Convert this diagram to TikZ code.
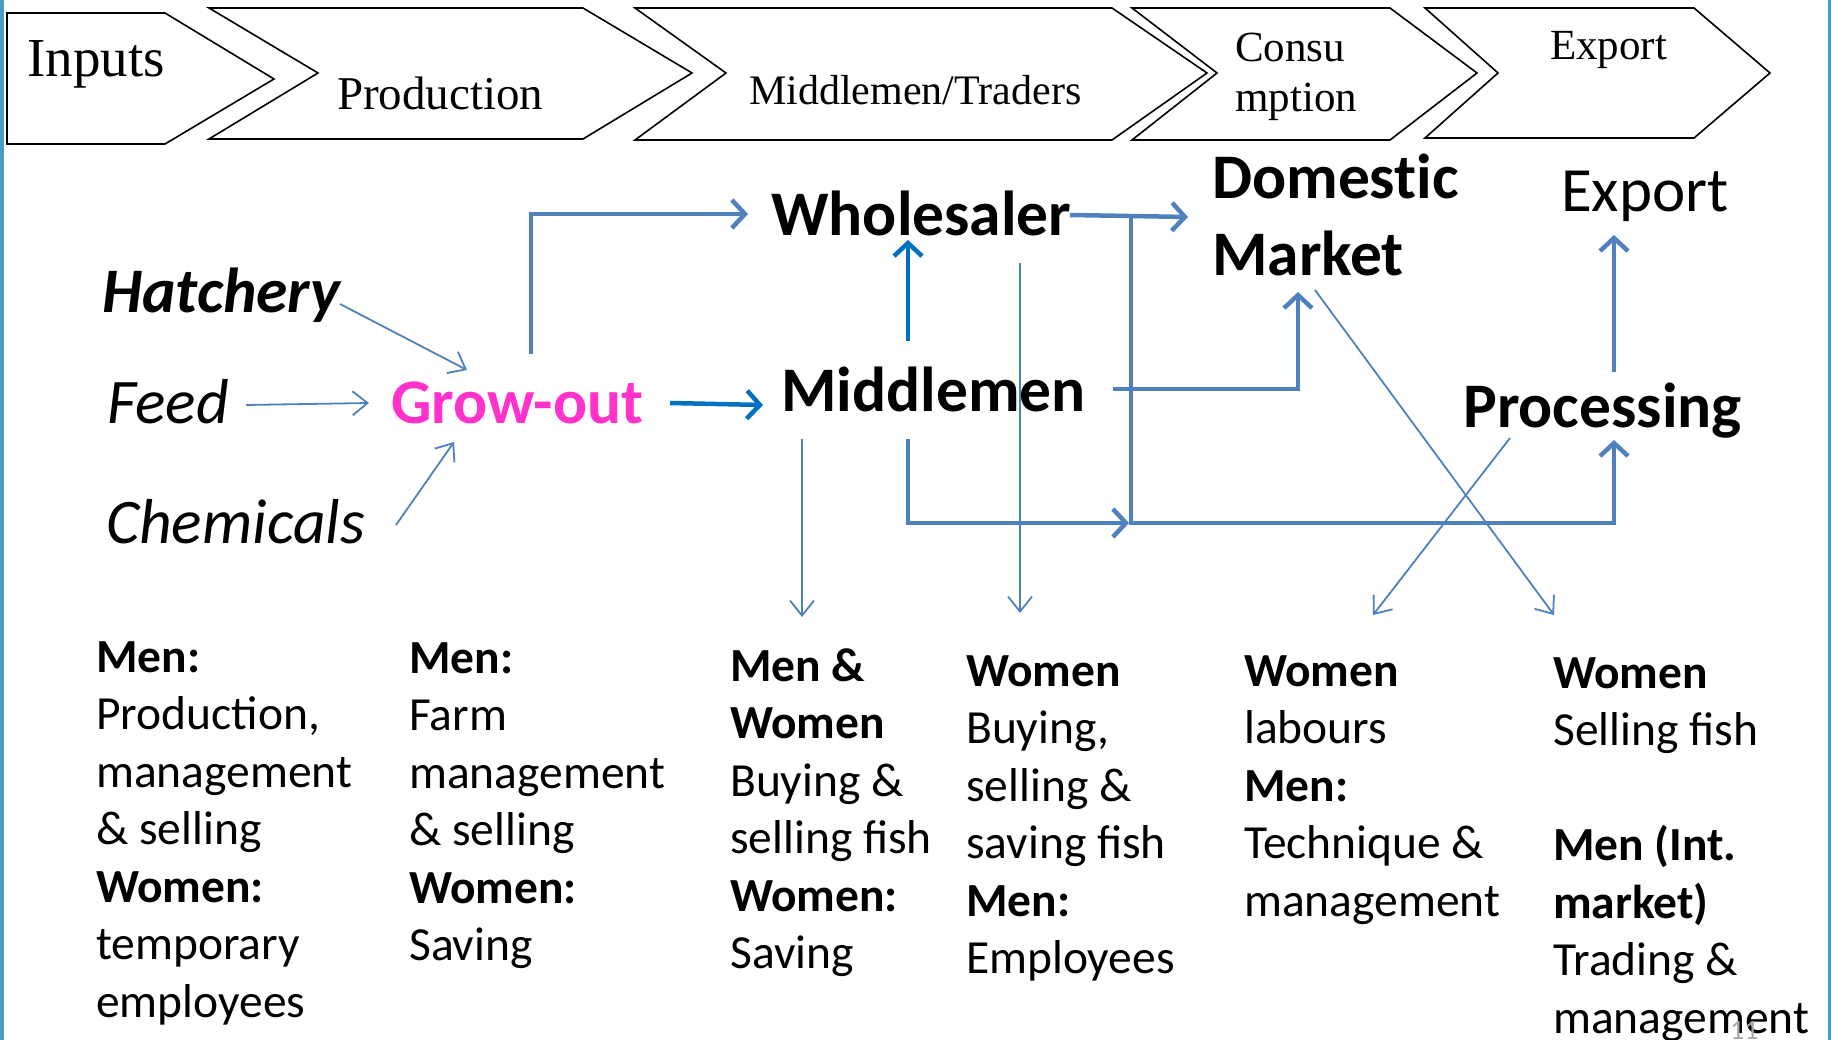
\documentclass[tikz,border=0pt]{standalone}
\usepackage{fontspec}
\setmainfont{Carlito}
\newfontfamily\tnr{Liberation Serif}
\usetikzlibrary{arrows.meta}
\definecolor{lineblue}{HTML}{4F81BD}
\definecolor{brightblue}{HTML}{0070C0}
\definecolor{tealborder}{HTML}{4A9BC0}
\definecolor{growpink}{HTML}{FF33CC}
\definecolor{pagegray}{HTML}{A6A6A6}
\newcommand\colbox[1]{\begin{tabular}[t]{@{}l@{}}#1\end{tabular}}
\tikzset{
  chev/.style={draw=black, line width=1.6pt, line join=miter},
  lbl/.style={inner sep=0pt, anchor=base west},
  bigtxt/.style={lbl, font=\fontsize{63.5}{70}\selectfont},
  coltxt/.style={lbl, font=\fontsize{47.5}{57.5}\selectfont},
  thinarr/.style={draw=lineblue, line width=1.8pt, -{Straight Barb[length=15pt,width=24pt]}},
  thinline/.style={draw=lineblue, line width=1.8pt},
  thickarr/.style={draw=lineblue, line width=4.5pt, -{Straight Barb[length=13pt,width=28pt]}},
  thickline/.style={draw=lineblue, line width=4.5pt},
}
\begin{document}
\begin{tikzpicture}[x=1pt,y=-1pt]
\clip (0,0) rectangle (1831,1040);
\fill[white] (0,0) rectangle (1831,1040);
\fill[tealborder] (0,0) rectangle (4,1040);
\fill[tealborder] (1828,0) rectangle (1831,1040);

% ---- chevrons ----
\draw[chev] (7,13) -- (165,13) -- (274,79) -- (165,144) -- (7,144) -- cycle;
\draw[chev] (209,8) -- (583,8) -- (692,73) -- (583,139) -- (209,139) -- (318,73) -- cycle;
\draw[chev] (635,8) -- (1112,8) -- (1207,73) -- (1112,140) -- (635,140) -- (726,73) -- cycle;
\draw[chev] (1132,8) -- (1390,8) -- (1477,73) -- (1390,140) -- (1132,140) -- (1217,73) -- cycle;
\draw[chev] (1425,8) -- (1694,8) -- (1770,73) -- (1694,138) -- (1425,138) -- (1498,73) -- cycle;

\node[lbl, font=\tnr\fontsize{55}{60}\selectfont] (cInputs) at (27,77) {Inputs};
\node[lbl, font=\tnr\fontsize{47}{52}\selectfont] (cProd) at (337,110) {Production};
\node[lbl, font=\tnr\fontsize{42}{48}\selectfont] (cMid) at (749,105) {Middlemen/Traders};
\node[lbl, font=\tnr\fontsize{43}{50}\selectfont] (cCons) at (1235,62) {\colbox{Consu\\mption}};
\node[lbl, font=\tnr\fontsize{43}{48}\selectfont] (cExp) at (1550,60) {Export};

% ---- main nodes ----
\node[bigtxt, font=\fontsize{63.5}{70}\selectfont\bfseries\itshape] (hatch) at (102,313) {Hatchery};
\node[bigtxt, font=\fontsize{63.5}{70}\selectfont\itshape] (feed) at (107,424) {Feed};
\node[bigtxt, font=\fontsize{63.5}{70}\selectfont\itshape] (chem) at (106,543) {Chemicals};
\node[bigtxt, font=\fontsize{63.5}{70}\selectfont\bfseries, text=growpink] (grow) at (391,424) {Grow-out};
\node[bigtxt, font=\fontsize{63.5}{70}\selectfont\bfseries] (whole) at (771,236) {Wholesaler};
\node[bigtxt, font=\fontsize{63.5}{70}\selectfont\bfseries] (middle) at (781,411) {Middlemen};
\node[bigtxt, font=\fontsize{63.5}{70}\selectfont\bfseries] (domestic) at (1212,199) {Domest\kern0pt ic};
\node[bigtxt, font=\fontsize{63.5}{70}\selectfont\bfseries] (market) at (1212,276) {Market};
\node[bigtxt, font=\fontsize{63}{70}\selectfont] (export) at (1561,212) {Export};
\node[bigtxt, font=\fontsize{63.5}{70}\selectfont\bfseries] (proc) at (1463,427) {Processing};

% ---- connector end points ----
\coordinate (hatchOut) at (340,304);
\coordinate (growInH) at (467,370);
\coordinate (feedOut) at (246,405);
\coordinate (growInF) at (369,403);
\coordinate (chemOut) at (396,525);
\coordinate (growInC) at (454,442);
\coordinate (growOutR) at (670,403);
\coordinate (midIn) at (763,405);
\coordinate (growOutU) at (531,354);
\coordinate (wholeIn) at (748,214);
\coordinate (midOutU) at (908,341);
\coordinate (wholeInB) at (908,240);
\coordinate (midOutD) at (802,439);
\coordinate (midRole) at (802,617);
\coordinate (midOutL) at (908,439);
\coordinate (junction) at (1129,523);
\coordinate (wholeOutR) at (1070,215);
\coordinate (domIn) at (1188,217);
\coordinate (branchTop) at (1131,216);
\coordinate (procIn) at (1614,440);
\coordinate (midOutR) at (1113,389);
\coordinate (domInB) at (1298,292);
\coordinate (wholeOutD) at (1020,263);
\coordinate (wholeRole) at (1020,613);
\coordinate (domOutD) at (1315,290);
\coordinate (exportRole) at (1554,615);
\coordinate (procOutD) at (1510,438);
\coordinate (procRole) at (1373,615);
\coordinate (procOutU) at (1614,372);
\coordinate (exportIn) at (1614,235);

% ---- connectors ----
\draw[thinarr] (hatchOut) -- (growInH);
\draw[thinarr] (feedOut) -- (growInF);
\draw[thinarr] (chemOut) -- (growInC);
\draw[thickarr, draw=brightblue] (growOutR) -- (midIn);
\draw[thickarr] (growOutU) -- (growOutU |- wholeIn) -- (wholeIn);
\draw[thickarr, draw=brightblue] (midOutU) -- (wholeInB);
\draw[thinarr] (midOutD) -- (midRole);
\draw[thickarr] (midOutL) -- (midOutL |- junction) -- (junction);
\draw[thickarr] (wholeOutR) -- (domIn);
\draw[thickarr] (branchTop) -- (branchTop |- junction) -- (procIn |- junction) -- (procIn);
\draw[thickarr] (midOutR) -- (domInB |- midOutR) -- (domInB);
\draw[thinarr] (wholeOutD) -- (wholeRole);
\draw[thinarr] (domOutD) -- (exportRole);
\draw[thinarr] (procOutD) -- (procRole);
\draw[thickarr] (procOutU) -- (exportIn);

% ---- role columns ----
\node[coltxt] (col1) at (96,672) {\colbox{\textbf{Men:}\\Production,\\management\\\& selling\\\textbf{Women:}\\temporary\\employees}};
\node[coltxt] (col2) at (409,673) {\colbox{\textbf{Men:}\\Farm\\management\\\& selling\\\textbf{Women:}\\Saving}};
\node[coltxt] (col3) at (730,681) {\colbox{\textbf{Men \&}\\\textbf{Women}\\Buying \&\\selling fish\\\textbf{Women:}\\Saving}};
\node[coltxt] (col4) at (966,686) {\colbox{\textbf{Women}\\Buying,\\selling \&\\saving fish\\\textbf{Men:}\\Employees}};
\node[coltxt] (col5) at (1244,686) {\colbox{\textbf{Women}\\labours\\\textbf{Men:}\\Technique \&\\management}};
\node[coltxt] (col6) at (1553,688) {\colbox{\textbf{Women}\\Selling fish\\ \\\textbf{Men (Int.}\\\textbf{market)}\\Trading \&\\management}};

\node[lbl, font=\fontsize{28}{30}\selectfont, text=pagegray] (pagenum) at (1730,1039) {11};
\end{tikzpicture}
\end{document}
